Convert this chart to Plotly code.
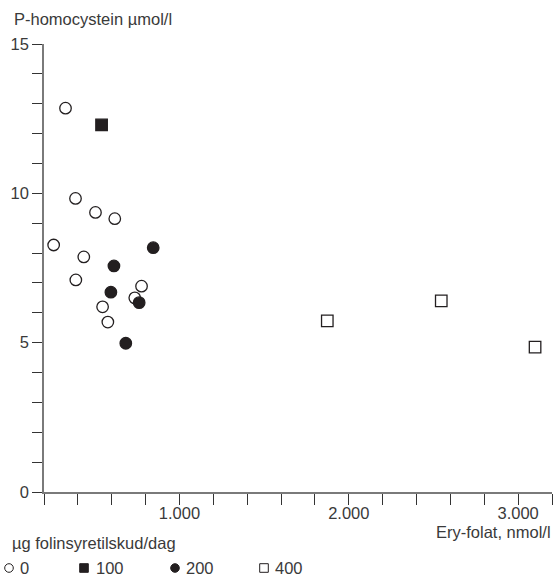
import plotly.graph_objects as go

# ---- data ----
folin0_x = [327, 386, 504, 618, 257, 435, 388, 776, 736, 546, 577]
folin0_y = [12.85, 9.83, 9.36, 9.15, 8.27, 7.87, 7.10, 6.89, 6.50, 6.20, 5.69]
folin100_x = [540]
folin100_y = [12.29]
folin200_x = [845, 613, 595, 762, 683]
folin200_y = [8.18, 7.57, 6.69, 6.34, 4.98]
folin400_x = [1873, 2546, 3100]
folin400_y = [5.73, 6.40, 4.85]

x_tickvals = [1000, 2000, 3000]
x_ticktext = ["1.000", "2.000", "3.000"]
y_tickvals = [0, 5, 10, 15]
y_ticktext = ["0", "5", "10", "15"]

legend_labels = ["0", "100", "200", "400"]

INK = "#231f20"
TXT = "#3a3a3a"
FONT = "Liberation Sans, Arial, sans-serif"
FS = 16.5

W, H = 555, 577
L, R, T, B = 44, 3, 44, 85
PW, PH = W - L - R, H - T - B

fig = go.Figure()
specs = [
    (folin0_x, folin0_y, "circle", "white", "0"),
    (folin100_x, folin100_y, "square", INK, "100"),
    (folin200_x, folin200_y, "circle", INK, "200"),
    (folin400_x, folin400_y, "square", "white", "400"),
]
for xs, ys, sym, fill, name in specs:
    fig.add_trace(go.Scatter(
        x=xs, y=ys, mode="markers", name=name, showlegend=False,
        marker=dict(symbol=sym, size=11.5, color=fill,
                    line=dict(color=INK, width=1.3)),
        cliponaxis=False,
    ))


def px2paper(px, py):
    return (px - L) / PW, (H - B - py) / PH


shapes = []
annotations = []
# legend keys (layout decoration)
leg_y = 568
key_specs = [(9, "circle", False, 18), (84, "rect", True, 94), (175, "circle", True, 184), (264, "rect", False, 273)]
for (cx, kind, filled, tx), lab in zip(key_specs, legend_labels):
    r = 4.3
    x0, y0 = px2paper(cx - r, leg_y + r)
    x1, y1 = px2paper(cx + r, leg_y - r)
    shapes.append(dict(type=kind, xref="paper", yref="paper", x0=x0, y0=y0, x1=x1, y1=y1,
                       line=dict(color=INK, width=1), fillcolor=INK if filled else "white"))
    ax, ay = px2paper(tx, leg_y)
    annotations.append(dict(text=lab, xref="paper", yref="paper", x=ax, y=ay,
                            xanchor="left", yanchor="middle", showarrow=False,
                            font=dict(family=FONT, size=FS, color=TXT)))

ax, ay = px2paper(10, 543)
annotations.append(dict(text="µg folinsyretilskud/dag", xref="paper", yref="paper", x=ax, y=ay,
                        xanchor="left", yanchor="middle", showarrow=False,
                        font=dict(family=FONT, size=FS, color=TXT)))
ax, ay = px2paper(12, 19)
annotations.append(dict(text="P-homocystein µmol/l", xref="paper", yref="paper", x=ax, y=ay,
                        xanchor="left", yanchor="middle", showarrow=False,
                        font=dict(family=FONT, size=FS, color=TXT)))
ax, ay = px2paper(553, 532)
annotations.append(dict(text="Ery-folat, nmol/l", xref="paper", yref="paper", x=ax, y=ay,
                        xanchor="right", yanchor="middle", showarrow=False,
                        font=dict(family=FONT, size=FS, color=TXT)))

fig.update_layout(
    width=W, height=H,
    margin=dict(l=L, r=R, t=T, b=B),
    paper_bgcolor="white", plot_bgcolor="white",
    shapes=shapes, annotations=annotations,
    showlegend=False,
    xaxis=dict(range=[200, 3200], showgrid=False, zeroline=False,
               showline=True, linecolor="#7a7a7a", linewidth=1.5,
               tickmode="array", tickvals=x_tickvals, ticktext=x_ticktext,
               ticks="outside", ticklen=11, tickwidth=1.2, tickcolor="#333",
               ticklabelstandoff=-6,
               tickfont=dict(family=FONT, size=FS, color=TXT),
               minor=dict(tickmode="linear", tick0=200, dtick=200, ticks="outside",
                          ticklen=11, tickwidth=1.2, tickcolor="#333", showgrid=False)),
    yaxis=dict(range=[0, 15], showgrid=False, zeroline=False,
               showline=True, linecolor="#7a7a7a", linewidth=1.5,
               tickmode="array", tickvals=y_tickvals, ticktext=y_ticktext,
               ticks="outside", ticklen=10, tickwidth=1.2, tickcolor="#333",
               tickfont=dict(family=FONT, size=FS, color=TXT),
               minor=dict(tickmode="linear", tick0=0, dtick=1, ticks="outside",
                          ticklen=10, tickwidth=1.2, tickcolor="#333", showgrid=False)),
)

fig.write_html("out.html", config={"displayModeBar": False},
               post_script="document.body.style.margin='0';document.body.style.padding='0';")
